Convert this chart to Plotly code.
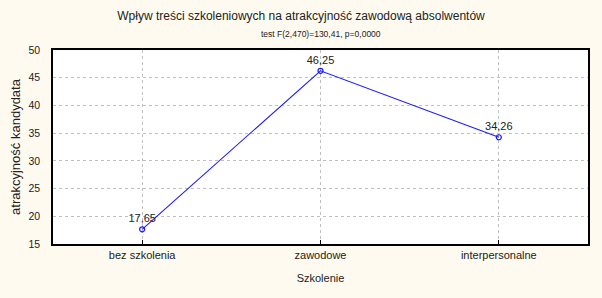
import plotly.graph_objects as go

categories = ["bez szkolenia", "zawodowe", "interpersonalne"]
values = [17.65, 46.25, 34.26]
value_labels = ["17,65", "46,25", "34,26"]
y_ticks = [15, 20, 25, 30, 35, 40, 45, 50]

fig = go.Figure()
fig.add_trace(go.Scatter(
    x=categories, y=values, mode="lines+markers+text",
    text=value_labels, textposition="top center",
    textfont=dict(family="Liberation Sans", size=11, color="#222"),
    line=dict(color="#1a1aff", width=1.1),
    marker=dict(symbol="circle-open", size=5, color="#1a1aff", line=dict(width=1.2)),
    cliponaxis=False, showlegend=False,
))

fig.update_layout(
    width=602, height=298,
    paper_bgcolor="#fffaf0", plot_bgcolor="white",
    margin=dict(l=53, r=12, t=50, b=54),
    font=dict(family="Liberation Sans", color="#222"),
    title=dict(
        text="Wpływ treści szkoleniowych na atrakcyjność zawodową absolwentów",
        x=0.5, xanchor="center", y=1 - 16 / 298, yanchor="middle",
        font=dict(size=12, family="Liberation Sans", color="#222"),
    ),
    annotations=[dict(
        text="test F(2,470)=130,41, p=0,0000", xref="paper", yref="paper",
        x=0.5, y=(244 - 34) / 194, xanchor="center", yanchor="middle",
        showarrow=False, font=dict(size=8.5, family="Liberation Sans", color="#222"),
    )],
)
fig.update_xaxes(
    range=[-0.5, 2.5], showline=True, linecolor="black", linewidth=1.6, mirror=True,
    ticks="inside", ticklen=4, tickcolor="black",
    showgrid=True, gridcolor="#c0c0c0", griddash="dot", gridwidth=1,
    tickfont=dict(size=11), title=dict(text="Szkolenie", font=dict(size=11), standoff=14),
)
fig.update_yaxes(
    range=[15, 50], tickvals=y_ticks, showline=True, linecolor="black", linewidth=1.6, mirror=True,
    ticks="", ticklabelstandoff=9, showgrid=True, gridcolor="#c0c0c0", griddash="dot", gridwidth=1,
    tickfont=dict(size=10.5), title=dict(text="atrakcyjność kandydata", font=dict(size=13), standoff=5),
)
fig.write_html("out.html")
